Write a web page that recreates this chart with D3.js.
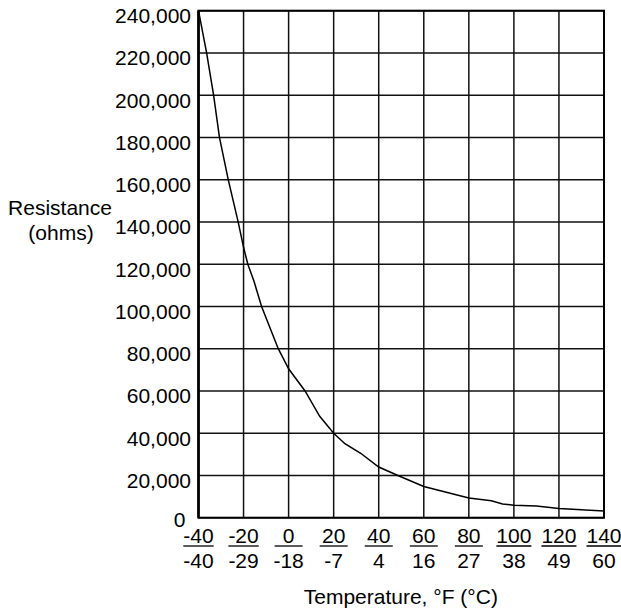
<!DOCTYPE html>
<html>
<head>
<meta charset="utf-8">
<script src="https://cdn.jsdelivr.net/npm/d3@7"></script>
<style>
  body { margin: 0; background: #fff; }
  text { font-family: "Liberation Sans", Arial, sans-serif; fill: #000; }
</style>
</head>
<body>
<div id="chart"></div>
<script>
// temperature (°F) and resistance (ohms)
var tempF = [-40, -36.4, -33.3, -30.7, -26.8, -22.4, -20, -18.1, -15.4, -12, -4.6, 0, 7.3, 13.8, 20, 25, 32, 40, 48.5, 60, 80, 90, 95, 100, 110, 120, 140];
var ohms  = [240000, 220000, 200000, 180000, 160000, 140000, 128000, 120000, 112000, 100000, 80000, 70500, 60000, 48000, 40000, 35000, 30500, 24000, 20000, 14800, 9300, 8000, 6500, 5900, 5500, 4300, 3200];

var fTicks = [-40, -20, 0, 20, 40, 60, 80, 100, 120, 140];
var cLabels = ["-40", "-29", "-18", "-7", "4", "16", "27", "38", "49", "60"];
var yTicks = d3.range(0, 240001, 20000);

var data = tempF.map(function(t, i) { return {x: t, y: ohms[i]}; });

// set the dimensions and margins of the graph
var margin = {top: 10.7, right: 17, bottom: 93.3, left: 198.5},
    width = 621 - margin.left - margin.right,
    height = 611 - margin.top - margin.bottom;

var x = d3.scaleLinear().domain([-40, 140]).range([0, width]);
var y = d3.scaleLinear().domain([0, 240000]).range([height, 0]);

var svg = d3.select("#chart").append("svg")
    .attr("width", 621)
    .attr("height", 611)
  .append("g")
    .attr("transform", "translate(" + margin.left + "," + margin.top + ")");

// grid lines
svg.append("g")
    .selectAll("line.v")
    .data(fTicks)
  .enter().append("line")
    .attr("x1", function(d) { return x(d); })
    .attr("x2", function(d) { return x(d); })
    .attr("y1", 0)
    .attr("y2", height)
    .attr("stroke", "#111")
    .attr("stroke-width", 1.5);

svg.append("g")
    .selectAll("line.h")
    .data(yTicks)
  .enter().append("line")
    .attr("x1", 0)
    .attr("x2", width)
    .attr("y1", function(d) { return y(d); })
    .attr("y2", function(d) { return y(d); })
    .attr("stroke", "#111")
    .attr("stroke-width", 1.5);

// frame
svg.append("rect")
    .attr("width", width)
    .attr("height", height)
    .attr("fill", "none")
    .attr("stroke", "#000")
    .attr("stroke-width", 2);
svg.append("line")
    .attr("x1", 0).attr("x2", 0)
    .attr("y1", 0).attr("y2", height)
    .attr("stroke", "#000")
    .attr("stroke-width", 2.5);

// y labels (the 0 sits a little lower and further left)
svg.append("g")
    .selectAll("text")
    .data(yTicks)
  .enter().append("text")
    .attr("x", function(d) { return d === 0 ? -13 : -7.5; })
    .attr("y", function(d) { return d === 0 ? y(d) + 9.5 : y(d) + 12.5; })
    .attr("text-anchor", "end")
    .style("font-size", "21px")
    .text(function(d) { return d3.format(",")(d); });

// x labels, °F underlined with °C below
var xl = svg.append("g").attr("transform", "translate(0," + height + ")");
fTicks.forEach(function(t, i) {
  var tf = xl.append("text")
      .attr("x", x(t))
      .attr("y", 25.6)
      .attr("text-anchor", "middle")
      .style("font-size", "21px")
      .text(t);
  var w = Math.max(tf.node().getComputedTextLength(), 28);
  xl.append("line")
      .attr("x1", x(t) - w / 2)
      .attr("x2", x(t) + w / 2)
      .attr("y1", 28.3)
      .attr("y2", 28.3)
      .attr("stroke", "#000")
      .attr("stroke-width", 1.3);
  xl.append("text")
      .attr("x", x(t))
      .attr("y", 50.5)
      .attr("text-anchor", "middle")
      .style("font-size", "21px")
      .text(cLabels[i]);
});

// the curve
var valueline = d3.line()
    .x(function(d) { return x(d.x); })
    .y(function(d) { return y(d.y); });

svg.append("path")
    .data([data])
    .attr("fill", "none")
    .attr("stroke", "#000")
    .attr("stroke-width", 1.5)
    .attr("d", valueline);

// axis titles
svg.append("text")
    .attr("x", 400.8 - margin.left)
    .attr("y", 604.3 - margin.top)
    .attr("text-anchor", "middle")
    .style("font-size", "21px")
    .text("Temperature, °F (°C)");

svg.append("text")
    .attr("x", 60 - margin.left)
    .attr("y", 215 - margin.top)
    .attr("text-anchor", "middle")
    .style("font-size", "21px")
    .text("Resistance");
svg.append("text")
    .attr("x", 61 - margin.left)
    .attr("y", 240 - margin.top)
    .attr("text-anchor", "middle")
    .style("font-size", "21px")
    .text("(ohms)");
</script>
</body>
</html>
